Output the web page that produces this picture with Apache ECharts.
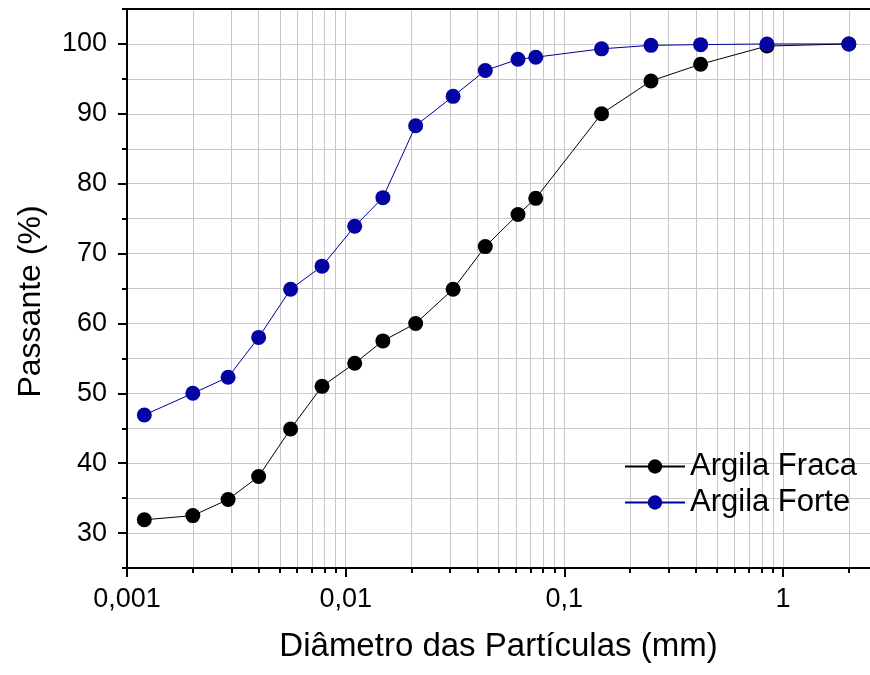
<!DOCTYPE html>
<html>
<head>
<meta charset="utf-8">
<script src="https://cdn.jsdelivr.net/npm/echarts@6/dist/echarts.min.js"></script>
<style>html,body{margin:0;padding:0;background:#fff}#c{width:870px;height:675px}</style>
</head>
<body>
<div id="c"></div>
<script>
// Particle diameters (mm)
const diametros = [0.0012, 0.002, 0.0029, 0.004, 0.0056, 0.0078, 0.011, 0.0148, 0.0209, 0.031, 0.0435, 0.0614, 0.074, 0.148, 0.249, 0.42, 0.845, 2.0];
// Passing percentage
const argilaFraca = [31.9, 32.5, 34.8, 38.1, 44.9, 51.0, 54.3, 57.5, 60.0, 64.9, 71.0, 75.6, 77.9, 90.0, 94.7, 97.1, 99.7, 100];
const argilaForte = [46.9, 50.0, 52.3, 58.0, 64.9, 68.2, 73.9, 78.0, 88.3, 92.5, 96.2, 97.8, 98.1, 99.3, 99.8, 99.9, 100, 100];
const seriesNames = ['Argila Fraca', 'Argila Forte'];
// Axis ticks
const xMajorTicks = [0.001, 0.01, 0.1, 1];
const xMinorTicks = [0.001,0.002,0.003,0.004,0.005,0.006,0.007,0.008,0.009,
                     0.01,0.02,0.03,0.04,0.05,0.06,0.07,0.08,0.09,
                     0.1,0.2,0.3,0.4,0.5,0.6,0.7,0.8,0.9,1,2];
const yMajorTicks = [30, 40, 50, 60, 70, 80, 90, 100];

const FONT = 'Liberation Sans, Arial, sans-serif';
const toPairs = (xs, ys) => xs.map((x, i) => [x, ys[i]]);

const chart = echarts.init(document.getElementById('c'), null, {renderer: 'canvas'});
const xCommon = { type: 'log', logBase: 10, min: 0.001, max: 2.5, gridIndex: 0 };
chart.setOption({
  animation: false,
  backgroundColor: '#fff',
  grid: { left: 127, right: 0, top: 9, bottom: 107, containLabel: false },
  legend: {
    orient: 'vertical', left: 619, top: 446, itemWidth: 60, itemHeight: 18, itemGap: 5,
    textStyle: { fontFamily: FONT, fontSize: 31, color: '#000', padding: [0, 0, 0, 0] },
    data: seriesNames
  },
  xAxis: [
    Object.assign({}, xCommon, {
      position: 'bottom',
      name: 'Diâmetro das Partículas (mm)', nameLocation: 'middle', nameGap: 62,
      nameTextStyle: { fontFamily: FONT, fontSize: 33, color: '#000' },
      axisLine: { show: true, onZero: false, lineStyle: { color: '#000', width: 2 } },
      axisTick: { show: true, customValues: xMajorTicks, length: 9, lineStyle: { color: '#000', width: 2 } },
      axisLabel: { show: true, customValues: xMajorTicks, margin: 18, fontFamily: FONT, fontSize: 27, color: '#000',
        formatter: v => String(+v.toPrecision(6)).replace('.', ',') },
      splitLine: { show: false }
    }),
    Object.assign({}, xCommon, {
      position: 'bottom',
      axisLine: { show: false },
      axisTick: { show: true, customValues: xMinorTicks, length: 5, lineStyle: { color: '#000', width: 2 } },
      axisLabel: { show: false },
      splitLine: { show: true, lineStyle: { color: '#c8c8c8', width: 1 } }
    }),
    Object.assign({}, xCommon, {
      position: 'top',
      axisLine: { show: true, onZero: false, lineStyle: { color: '#000', width: 2 } },
      axisTick: { show: false }, axisLabel: { show: false }, splitLine: { show: false }
    })
  ],
  yAxis: [
    {
      type: 'value', min: 25, max: 105, interval: 5, position: 'left',
      name: 'Passante (%)', nameLocation: 'middle', nameGap: 80, nameRotate: 90,
      nameTextStyle: { fontFamily: FONT, fontSize: 32, color: '#000', padding: [0, 26, 0, 0] },
      axisLine: { show: true, onZero: false, lineStyle: { color: '#000', width: 2 } },
      axisTick: { show: true, length: 5, lineStyle: { color: '#000', width: 2 } },
      axisLabel: { show: true, customValues: yMajorTicks, margin: 20, fontFamily: FONT, fontSize: 27, color: '#000' },
      splitLine: { show: true, lineStyle: { color: '#c8c8c8', width: 1 } }
    },
    {
      type: 'value', min: 25, max: 105, interval: 5, position: 'left',
      axisLine: { show: false },
      axisTick: { show: true, customValues: yMajorTicks, length: 9, lineStyle: { color: '#000', width: 2 } },
      axisLabel: { show: false }, splitLine: { show: false }
    }
  ],
  series: [
    {
      name: seriesNames[0], type: 'line', xAxisIndex: 0, yAxisIndex: 0,
      data: toPairs(diametros, argilaFraca),
      symbol: 'circle', symbolSize: 15,
      lineStyle: { color: '#000', width: 1 },
      itemStyle: { color: '#000' }, z: 3
    },
    {
      name: seriesNames[1], type: 'line', xAxisIndex: 0, yAxisIndex: 0,
      data: toPairs(diametros, argilaForte),
      symbol: 'circle', symbolSize: 15,
      lineStyle: { color: '#00009c', width: 1 },
      itemStyle: { color: '#0404a3' }, z: 4
    }
  ]
});
</script>
</body>
</html>
